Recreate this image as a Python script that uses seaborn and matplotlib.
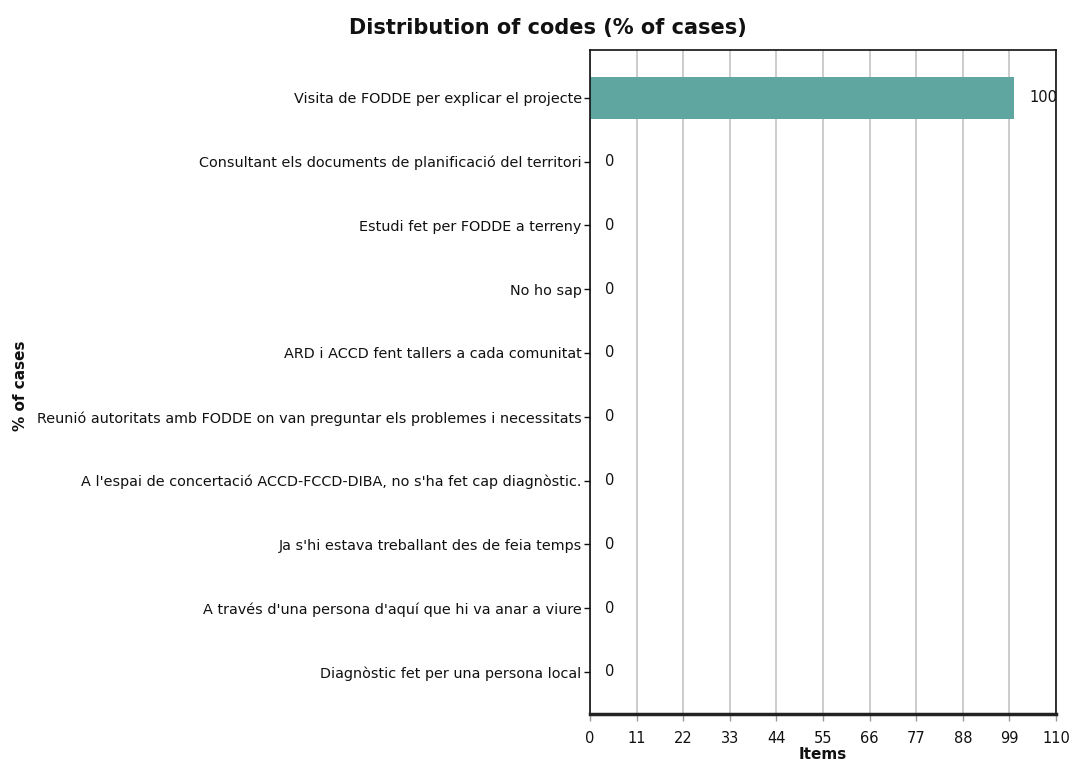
import pandas as pd
import matplotlib
matplotlib.use('Agg')
import matplotlib.pyplot as plt
import seaborn as sns

# ------------------------------------------------------------------ #
#  Data                                                                #
# ------------------------------------------------------------------ #

codes = [
    "Visita de FODDE per explicar el projecte",
    "Consultant els documents de planificació del territori",
    "Estudi fet per FODDE a terreny",
    "No ho sap",
    "ARD i ACCD fent tallers a cada comunitat",
    "Reunió autoritats amb FODDE on van preguntar els problemes i necessitats",
    "A l'espai de concertació ACCD-FCCD-DIBA, no s'ha fet cap diagnòstic.",
    "Ja s'hi estava treballant des de feia temps",
    "A través d'una persona d'aquí que hi va anar a viure",
    "Diagnòstic fet per una persona local",
]
pct_cases = [100, 0, 0, 0, 0, 0, 0, 0, 0, 0]
x_ticks = [0, 11, 22, 33, 44, 55, 66, 77, 88, 99, 110]

df = pd.DataFrame({'Code': codes, 'Percent': pct_cases})

# ------------------------------------------------------------------ #
#  Plot                                                                #
# ------------------------------------------------------------------ #

sns.set_style('white')
plt.rcParams['font.family'] = ['DejaVu Sans']
plt.rcParams['text.color'] = '#111111'
plt.rcParams['xtick.color'] = '#111111'
plt.rcParams['ytick.color'] = '#111111'
plt.rcParams['axes.labelcolor'] = '#111111'

fig = plt.figure(figsize=(10.72, 7.63), dpi=100)
ax = fig.add_axes([0.5504, 0.0642, 0.4347, 0.8703])

sns.barplot(data=df, x='Percent', y='Code', orient='h', color='#5FA6A1',
            saturation=1, width=0.66, linewidth=0, ax=ax, zorder=3)

ax.set_xlim(0, 110)
ax.set_ylim(len(codes) - 1 + 0.66, -0.75)
ax.set_xticks(x_ticks)
ax.xaxis.grid(True, color='#C8C8C8', linewidth=1.3, zorder=0)
ax.set_axisbelow(True)

for i, v in enumerate(pct_cases):
    ax.annotate(f'{v}', xy=(v, i), xytext=(11, 0), textcoords='offset points',
                va='center', ha='left', fontsize=10.5)

ax.tick_params(axis='y', length=4, width=1, colors='#111111', labelsize=10.4,
               left=True, pad=2)
ax.tick_params(axis='x', length=5, width=1, color='#999999', labelsize=10.5,
               labelcolor='#111111', bottom=True, pad=7)

for side in ['left', 'right', 'top']:
    ax.spines[side].set_color('#111111')
    ax.spines[side].set_linewidth(1.2)
    ax.spines[side].set_zorder(5)
ax.spines['bottom'].set_color('#222222')
ax.spines['bottom'].set_linewidth(2.5)
ax.spines['bottom'].set_zorder(5)

ax.set_xlabel('Items', fontsize=11, fontweight='bold', labelpad=1)
ax.set_ylabel('')
fig.text(0.019, 0.495, '% of cases', rotation=90, ha='center', va='center',
         fontsize=11, fontweight='bold')
fig.text(0.511, 0.963, 'Distribution of codes (% of cases)', ha='center',
         va='center', fontsize=15, fontweight='bold')

fig.savefig('out.png', dpi=100)
